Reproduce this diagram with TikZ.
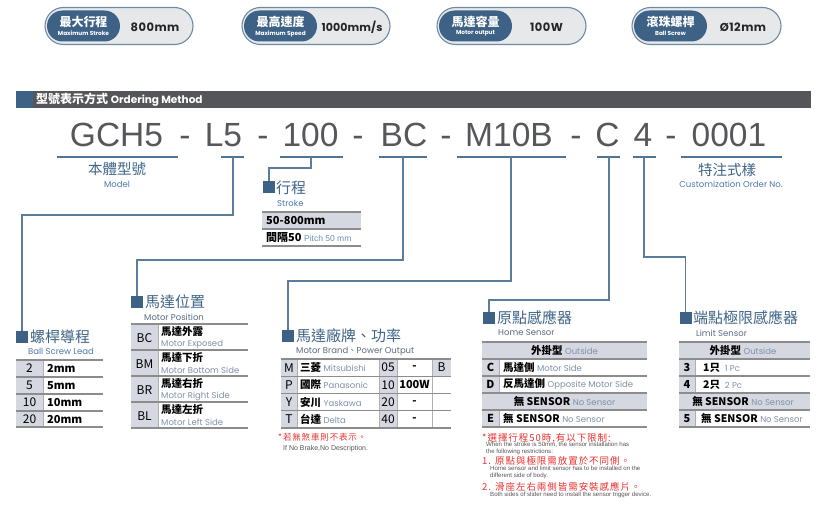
\documentclass[tikz,border=0pt]{standalone}
\usepackage{fontspec}
\setmainfont{Noto Sans CJK TC}
\newfontfamily\cjk{Noto Sans CJK TC}
\newfontfamily\cjkls{Noto Sans CJK TC}[LetterSpace=10]
\newfontfamily\pop{Poppins}
\newfontfamily\popsp{Poppins}[LetterSpace=4]
\newfontfamily\popsq{Poppins}[LetterSpace=1]
\newfontfamily\lib{Liberation Sans}
\definecolor{blued}{HTML}{3D6286}
\definecolor{headc}{HTML}{3F6587}
\definecolor{subc}{HTML}{4C79A8}
\definecolor{subd}{HTML}{5A6B80}
\definecolor{connc}{HTML}{5B7C9A}
\definecolor{ulc}{HTML}{4F7496}
\definecolor{cellc}{HTML}{D5D8E1}
\definecolor{tlinec}{HTML}{8C8C8C}
\definecolor{enc}{HTML}{7F91A8}
\definecolor{badgebg}{HTML}{E7E8EA}
\definecolor{badgebd}{HTML}{6F89A4}
\definecolor{barc}{HTML}{555659}
\definecolor{codec}{HTML}{56575B}
\definecolor{redc}{HTML}{E8312F}
\definecolor{notec}{HTML}{555555}
\definecolor{pitchc}{HTML}{6E8FB5}
\newcommand{\entx}[1]{{\pop\mdseries\fontsize{8.5}{8.5}\selectfont\color{enc}#1}}
\begin{document}
\begin{tikzpicture}[x=1pt,y=-1pt,
  conn/.style={draw=connc,line width=1.1pt},
  uline/.style={draw=ulc,line width=1.2pt},
  sq/.style={fill=blued,minimum size=12pt,inner sep=0,draw=none},
  head/.style={anchor=west,inner sep=0,text=headc,font=\fontsize{15}{15}\selectfont},
  sub/.style={anchor=west,inner sep=0,text=subd,font=\pop\fontsize{8.5}{8.5}\selectfont},
  code/.style={anchor=base,inner sep=0,text=codec,font=\lib\fontsize{33.5}{33.5}\selectfont},
  hl/.style={draw=tlinec,line width=1.2pt},
  vl/.style={draw=tlinec!70,line width=0.8pt},
  cc/.style={inner sep=0,font=\fontsize{12}{12}\selectfont},
  ccb/.style={inner sep=0,font=\bfseries\fontsize{11}{11}\selectfont},
  ct/.style={anchor=west,inner sep=0,font=\bfseries\fontsize{11}{11}\selectfont},
  ctb/.style={anchor=west,inner sep=0,font=\bfseries\fontsize{10.5}{10.5}\selectfont},
  bcjk/.style={inner sep=0,text=white,font=\bfseries\fontsize{12}{12}\selectfont},
  ben/.style={inner sep=0,text=white,font=\pop\bfseries\fontsize{5.8}{5.8}\selectfont},
  bval/.style={anchor=base,inner sep=0,text=black!85,font=\popsp\bfseries\fontsize{11.5}{11.5}\selectfont},
  rednote/.style={anchor=west,inner sep=0,text=redc,font=\cjkls\fontsize{9.5}{9.5}\selectfont},
  ennote/.style={anchor=north west,inner sep=0,text=notec,align=left,font=\lib\fontsize{6.1}{7.2}\selectfont}
]
\useasboundingbox (0,0) rectangle (828,508);
\fill[white] (0,0) rectangle (828,508);

% ---------- badges ----------
\foreach \xa/\xb/\xi in {45/193/120, 242/390/317, 437/586/512, 632/781/707}{
  \filldraw[fill=badgebg,draw=badgebd,line width=1.1pt,rounded corners=18.5pt] (\xa,7.5) rectangle (\xb,44.5);
  \fill[blued,rounded corners=15.5pt] (\xa+2,10.5) rectangle (\xi,41.5);
}
\node[bcjk] (b1a) at (83.5,21.5) {最大行程};
\node[ben]  (b1b) at (83.5,33.5) {Maximum Stroke};
\node[bval] (b1c) at (155,31.7) {800mm};
\node[bcjk] (b2a) at (280.5,21.5) {最高速度};
\node[ben]  (b2b) at (280.5,33.5) {Maximum Speed};
\node[bval,font=\popsq\bfseries\fontsize{11}{11}\selectfont] (b2c) at (352,31.7) {1000mm/s};
\node[bcjk] (b3a) at (475.5,21.5) {馬達容量};
\node[ben]  (b3b) at (475.5,33.5) {Motor output};
\node[bval] (b3c) at (546.5,31.7) {100W};
\node[bcjk] (b4a) at (670.5,21.5) {滾珠螺桿};
\node[ben]  (b4b) at (670.5,33.5) {Ball Screw};
\node[bval] (b4c) at (743,31.7) {Ø12mm};

% ---------- header bar ----------
\fill[barc] (16,91) rectangle (811,108);
\fill[blued] (16,91) rectangle (33,108);
\node[anchor=west,inner sep=0,text=white,font=\bfseries\fontsize{12}{12}\selectfont] (hdr) at (36,99.5)
  {型號表示方式 {\pop\bfseries\fontsize{10.5}{10.5}\selectfont Ordering Method}};

% ---------- code line ----------
\node[code] (p1) at (116.5,147) {GCH5};
\node[code] (d1) at (185,147) {-};
\node[code] (p2) at (223.5,147) {L5};
\node[code] (d2) at (263,147) {-};
\node[code] (p3) at (310.5,147) {100};
\node[code] (d3) at (358,147) {-};
\node[code] (p4) at (404,147) {BC};
\node[code] (d4) at (446,147) {-};
\node[code] (p5) at (509,147) {M10B};
\node[code] (d5) at (576,147) {-};
\node[code] (p6) at (607.5,147) {C};
\node[code] (p7) at (643,147) {4};
\node[code] (d6) at (671,147) {-};
\node[code] (p8) at (729,147) {0001};

% underlines
\foreach \a/\b in {57/178, 221/244, 280/343, 379/427, 457/566, 597/620, 633/656, 681/782}{
  \draw[uline] (\a,157) -- (\b,157);
}

% labels below code
\node[inner sep=0,text=headc,font=\fontsize{14.5}{14.5}\selectfont] (lm1) at (117,169.5) {本體型號};
\node[inner sep=0,text=subc,font=\pop\fontsize{8.5}{8.5}\selectfont] (lm2) at (117,184.5) {Model};
\node[inner sep=0,text=headc,font=\fontsize{14.5}{14.5}\selectfont] (lc1) at (727,169.5) {特注式樣};
\node[inner sep=0,text=subc,font=\pop\fontsize{8.5}{8.5}\selectfont] (lc2) at (731,184.5) {Customization Order No.};

% ---------- squares + headings ----------
\node[sq] (sqA) at (22,337) {};
\node[sq] (sqB) at (269,187.5) {};
\node[sq] (sqC) at (137,302) {};
\node[sq] (sqD) at (288,336) {};
\node[sq] (sqE) at (489,318) {};
\node[sq] (sqF) at (685.5,318) {};

\node[head] (hA) at (30,337) {螺桿導程};
\node[sub,text=subc] (sA) at (28,351.5) {Ball Screw Lead};
\node[head] (hB) at (276,187.5) {行程};
\node[sub,text=subc] (sB) at (277,203) {Stroke};
\node[head] (hC) at (145,302) {馬達位置};
\node[sub] (sC) at (144,317) {Motor Position};
\node[head] (hD) at (296,335.5) {馬達廠牌、功率};
\node[sub] (sD) at (296,351) {Motor Brand{\cjk 、}Power Output};
\node[head] (hE) at (497,318) {原點感應器};
\node[sub] (sE) at (498,333) {Home Sensor};
\node[head] (hF) at (693,318) {端點極限感應器};
\node[sub] (sF) at (696,333) {Limit Sensor};

% ---------- connectors ----------
\coordinate (cA) at (233,157);   \coordinate (kA) at (22,215);
\coordinate (cB) at (311,157);   \coordinate (kB) at (269,168);
\coordinate (cC) at (403,157);   \coordinate (kC) at (137,260);
\coordinate (cD) at (511,157);   \coordinate (kD) at (288,281);
\coordinate (cE) at (609,157);   \coordinate (kE) at (489,300);
\coordinate (cF) at (644,157);   \coordinate (kF) at (685.5,257);
\draw[conn] (cA) |- (kA) -- (sqA.north);
\draw[conn] (cB) |- (kB) -- (sqB.north);
\draw[conn] (cC) |- (kC) -- (sqC.north);
\draw[conn] (cD) |- (kD) -- (sqD.north);
\draw[conn] (cE) |- (kE) -- (sqE.north);
\draw[conn] (cF) |- (kF) -- (sqF.north);

% ---------- table: ball screw lead ----------
\fill[cellc] (16,360) rectangle (43,427);
\draw[vl] (43,360) -- (43,427);
\foreach \y in {360,377,394,411,427} \draw[hl] (16,\y) -- (103,\y);
\foreach \v/\t [count=\i] in {2/2mm,5/5mm,10/10mm,20/20mm}{
  \node[cc] (la\i) at (29.5,351.5+17*\i) {\v};
  \node[ct] (lb\i) at (47,351.5+17*\i) {\t};
}

% ---------- table: stroke ----------
\fill[cellc] (262,212) rectangle (361,229);
\foreach \y in {212,229,246} \draw[hl] (262,\y) -- (361,\y);
\node[ct] (st1) at (266,220.5) {50-800mm};
\node[ct] (st2) at (266,237.5) {間隔50 {\lib\mdseries\fontsize{8.5}{8.5}\selectfont\color{pitchc}Pitch 50 mm}};

% ---------- table: motor position ----------
\fill[cellc] (131,324) rectangle (158,428);
\draw[vl] (158,324) -- (158,428);
\foreach \y in {324,350,376,402,428} \draw[hl] (131,\y) -- (248,\y);
\foreach \c/\z/\e [count=\i] in {BC/馬達外露/Motor Exposed, BM/馬達下折/Motor Bottom Side, BR/馬達右折/Motor Right Side, BL/馬達左折/Motor Left Side}{
  \node[cc] (mc\i) at (144.5,312+26*\i) {\c};
  \node[ctb] (mz\i) at (161,306+26*\i) {\z};
  \node[anchor=west,inner sep=0] (me\i) at (161,318.5+26*\i) {\entx{\e}};
}

% ---------- table: motor brand ----------
\fill[cellc] (281,359) rectangle (297,428);
\fill[cellc] (379,359) rectangle (397,428);
\fill[cellc] (432,359) rectangle (451,376.25);
\foreach \x in {297,379,397,432} \draw[vl] (\x,359) -- (\x,428);
\foreach \k in {0,1,2,3,4} \draw[hl] (281,359+17.25*\k) -- (451,359+17.25*\k);
\foreach \c/\z/\e/\n/\w [count=\i] in {M/三菱/Mitsubishi/05/-, P/國際/Panasonic/10/100W, Y/安川/Yaskawa/20/-, T/台達/Delta/40/-}{
  \node[cc] (bc\i) at (289,350.4+17.25*\i) {\c};
  \node[ctb] (bz\i) at (300,350.4+17.25*\i) {\z\ \entx{\e}};
  \node[cc] (bn\i) at (388,350.4+17.25*\i) {\n};
  \node[ccb] (bw\i) at (414.5,350.4+17.25*\i) {\w};
}
\node[cc] (bB) at (441.5,367.6) {B};
\node[rednote,font=\cjkls\fontsize{8.5}{8.5}\selectfont] (nb1) at (278,437) {*若無煞車則不表示。};
\node[anchor=west,inner sep=0,text=notec,font=\lib\fontsize{7}{7}\selectfont] (nb2) at (283,449) {If No Brake,No Description.};

% ---------- table: home sensor ----------
\fill[cellc] (482,342) rectangle (647,359);
\fill[cellc] (482,393) rectangle (647,410);
\fill[cellc] (482,359) rectangle (499,393);
\fill[cellc] (482,410) rectangle (499,427);
\draw[vl] (499,359) -- (499,393);
\draw[vl] (499,410) -- (499,427);
\foreach \y in {342,359,376,393,410,427} \draw[hl] (482,\y) -- (647,\y);
\node[ctb] (h0) at (564.5,350.5) [anchor=center] {外掛型 \entx{Outside}};
\node[ccb] (h1a) at (490.5,367.5) {C};
\node[ctb] (h1b) at (503,367.5) {馬達側 \entx{Motor Side}};
\node[ccb] (h2a) at (490.5,384.5) {D};
\node[ctb] (h2b) at (503,384.5) {反馬達側 \entx{Opposite Motor Side}};
\node[ctb] (h3) at (564.5,401.5) [anchor=center] {無 SENSOR \entx{No Sensor}};
\node[ccb] (h4a) at (490.5,418.5) {E};
\node[ctb] (h4b) at (503,418.5) {無 SENSOR \entx{No Sensor}};

% notes under home sensor
\node[rednote] (r1) at (482,438) {*選擇行程50時,有以下限制:};
\node[ennote] (e1) at (486,442) {When the stroke is 50mm, the sensor installation has\\the following restrictions:};
\node[rednote] (r2) at (482,460.5) {1. 原點與極限需放置於不同側。};
\node[ennote] (e2) at (490,466) {Home sensor and limit sensor has to be installed on the\\different side of body.};
\node[rednote] (r3) at (482,487) {2. 滑座左右兩側皆需安裝感應片。};
\node[ennote] (e3) at (490,491.5) {Both sides of slider need to install the sensor trigger device.};

% ---------- table: limit sensor ----------
\fill[cellc] (679,342) rectangle (810,359);
\fill[cellc] (679,393) rectangle (810,410);
\fill[cellc] (679,359) rectangle (695,393);
\fill[cellc] (679,410) rectangle (695,427);
\draw[vl] (695,359) -- (695,393);
\draw[vl] (695,410) -- (695,427);
\foreach \y in {342,359,376,393,410,427} \draw[hl] (679,\y) -- (810,\y);
\node[ctb] (l0) at (743,350.5) [anchor=center] {外掛型 \entx{Outside}};
\node[ccb] (l1a) at (687,367.5) {3};
\node[ctb] (l1b) at (703,367.5) {1只 \ \entx{1 Pc}};
\node[ccb] (l2a) at (687,384.5) {4};
\node[ctb] (l2b) at (703,384.5) {2只 \ \entx{2 Pc}};
\node[ctb] (l3) at (743,401.5) [anchor=center] {無 SENSOR \entx{No Sensor}};
\node[ccb] (l4a) at (687,418.5) {5};
\node[ctb] (l4b) at (701,418.5) {無 SENSOR \entx{No Sensor}};
\end{tikzpicture}
\end{document}
